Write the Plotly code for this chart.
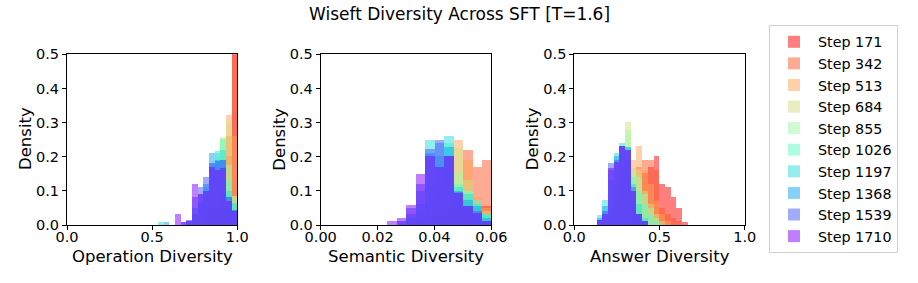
import plotly.graph_objects as go

# ---------------- data ----------------
steps = ["Step 171", "Step 342", "Step 513", "Step 684", "Step 855",
         "Step 1026", "Step 1197", "Step 1368", "Step 1539", "Step 1710"]

# Panel 1: Operation Diversity, bin width 1/30, bins 16..29
op_bin_width = 1 / 30
op_first_bin = 16
op_values = [
    [0, 0, 0, 0, 0, 0, 0, 0, 0.02, 0.03, 0.05, 0.08, 0.20, 0.62],
    [0, 0, 0, 0, 0, 0, 0, 0, 0.01, 0.03, 0.05, 0.10, 0.26, 0.55],
    [0, 0, 0, 0, 0, 0, 0, 0.02, 0.04, 0.06, 0.12, 0.18, 0.32, 0.26],
    [0, 0, 0, 0, 0, 0, 0.01, 0.03, 0.06, 0.10, 0.17, 0.258, 0.30, 0.083],
    [0, 0, 0, 0, 0, 0, 0.02, 0.05, 0.09, 0.14, 0.20, 0.25, 0.175, 0.083],
    [0, 0, 0, 0, 0, 0, 0.03, 0.06, 0.10, 0.16, 0.21, 0.25, 0.13, 0.063],
    [0.009, 0, 0, 0, 0, 0.01, 0.03, 0.07, 0.11, 0.18, 0.217, 0.22, 0.10, 0.063],
    [0, 0.009, 0, 0, 0, 0.01, 0.05, 0.09, 0.12, 0.21, 0.19, 0.19, 0.08, 0.044],
    [0, 0, 0, 0, 0.008, 0.012, 0.08, 0.109, 0.14, 0.18, 0.188, 0.19, 0.08, 0.044],
    [0, 0, 0, 0.03, 0.008, 0.015, 0.12, 0.09, 0.10, 0.17, 0.159, 0.165, 0.07, 0.04],
]

# Panel 2: Semantic Diversity, bin width 1/300, bins 7..17
sem_bin_width = 1 / 300
sem_first_bin = 7
sem_values = [
    [0, 0, 0, 0, 0, 0, 0, 0, 0, 0.02, 0.055],
    [0, 0, 0, 0, 0, 0.01, 0.03, 0.10, 0.219, 0.169, 0.19],
    [0, 0, 0, 0, 0.01, 0.03, 0.08, 0.249, 0.19, 0.08, 0.05],
    [0, 0, 0, 0.01, 0.03, 0.06, 0.13, 0.225, 0.13, 0.06, 0.04],
    [0, 0, 0.01, 0.02, 0.07, 0.11, 0.20, 0.152, 0.10, 0.06, 0.03],
    [0, 0, 0.01, 0.04, 0.12, 0.17, 0.24, 0.12, 0.10, 0.072, 0.03],
    [0, 0, 0.02, 0.06, 0.249, 0.20, 0.26, 0.11, 0.09, 0.06, 0.03],
    [0, 0.01, 0.03, 0.10, 0.21, 0.24, 0.227, 0.10, 0.073, 0.054, 0.02],
    [0, 0.012, 0.05, 0.12, 0.221, 0.249, 0.20, 0.095, 0.054, 0.04, 0.01],
    [0.01, 0.0195, 0.058, 0.149, 0.20, 0.168, 0.20, 0.093, 0.054, 0.035, 0.01],
]

# Panel 3: Answer Diversity, bin width 1/30, bins 4..19
ans_bin_width = 1 / 30
ans_first_bin = 4
ans_values = [
    [0, 0, 0, 0, 0, 0, 0.01, 0.05, 0.15, 0.17, 0.20, 0.12, 0.11, 0.081, 0.049, 0.008],
    [0, 0, 0, 0, 0, 0.01, 0.06, 0.17, 0.19, 0.19, 0.16, 0.05, 0.03, 0.02, 0.01, 0],
    [0, 0, 0, 0, 0.02, 0.05, 0.19, 0.23, 0.16, 0.12, 0.07, 0.03, 0.01, 0, 0, 0],
    [0, 0, 0, 0.03, 0.08, 0.30, 0.166, 0.16, 0.10, 0.06, 0.03, 0.01, 0, 0, 0, 0],
    [0, 0, 0.02, 0.06, 0.14, 0.278, 0.15, 0.14, 0.09, 0.05, 0.02, 0, 0, 0, 0, 0],
    [0, 0.01, 0.05, 0.12, 0.20, 0.229, 0.14, 0.10, 0.06, 0.03, 0.01, 0, 0, 0, 0, 0],
    [0.029, 0.071, 0.13, 0.21, 0.24, 0.19, 0.12, 0.06, 0.02, 0, 0, 0, 0, 0, 0, 0],
    [0.02, 0.054, 0.16, 0.20, 0.23, 0.229, 0.10, 0.03, 0.01, 0, 0, 0, 0, 0, 0, 0],
    [0.015, 0.04, 0.18, 0.19, 0.23, 0.22, 0.11, 0.03, 0.01, 0, 0, 0, 0, 0, 0, 0],
    [0.015, 0.03, 0.166, 0.185, 0.23, 0.22, 0.10, 0.03, 0.01, 0, 0, 0, 0, 0, 0, 0],
]

x_tick_labels_op = ["0.0", "0.5", "1.0"]
x_tick_labels_sem = ["0.00", "0.02", "0.04", "0.06"]
x_tick_labels_ans = ["0.0", "0.5", "1.0"]
y_tick_labels = ["0.0", "0.1", "0.2", "0.3", "0.4", "0.5"]

title_text = "Wiseft Diversity Across SFT [T=1.6]"
x_titles = ["Operation Diversity", "Semantic Diversity", "Answer Diversity"]

# ---------------- style ----------------
colors = ["rgb(255,0,0)", "rgb(255,87,44)", "rgb(255,164,87)", "rgb(212,221,128)",
          "rgb(156,251,164)", "rgb(99,251,195)", "rgb(42,221,221)", "rgb(14,164,240)",
          "rgb(71,87,251)", "rgb(128,0,255)"]

FONT = "DejaVu Sans"
W, H = 918, 283


def px_x(sx):
    return sx / W


def px_y(sy):
    return 1 - sy / H


panels = [
    dict(vals=op_values, bw=op_bin_width, first=op_first_bin, xr=[0, 1],
         tv=[0, 0.5, 1.0], tt=x_tick_labels_op, px=(67, 237.3)),
    dict(vals=sem_values, bw=sem_bin_width, first=sem_first_bin, xr=[0, 0.06],
         tv=[0, 0.02, 0.04, 0.06], tt=x_tick_labels_sem, px=(320.7, 491.3)),
    dict(vals=ans_values, bw=ans_bin_width, first=ans_first_bin, xr=[0, 1],
         tv=[0, 0.5, 1.0], tt=x_tick_labels_ans, px=(574.3, 744.7)),
]
y_top_px, y_bot_px = 54.3, 225.0

fig = go.Figure()
layout_axes = {}
annotations = []
for pi, p in enumerate(panels):
    xa = "x" if pi == 0 else f"x{pi+1}"
    ya = "y" if pi == 0 else f"y{pi+1}"
    for si, name in enumerate(steps):
        vals = p["vals"][si]
        xs = [(p["first"] + i + 0.5) * p["bw"] for i in range(len(vals))]
        fig.add_trace(go.Bar(
            x=xs, y=vals, width=p["bw"], name=name,
            marker=dict(color=colors[si], line=dict(width=0)),
            opacity=0.5, xaxis=xa, yaxis=ya,
            legendgroup=name, showlegend=(pi == 0),
        ))
    xkey = "xaxis" if pi == 0 else f"xaxis{pi+1}"
    ykey = "yaxis" if pi == 0 else f"yaxis{pi+1}"
    axis_common = dict(showline=True, linecolor="black", linewidth=1, mirror=True,
                       ticks="outside", ticklen=4, tickwidth=1, tickcolor="black",
                       showgrid=False, zeroline=False, automargin=False,
                       tickfont=dict(family=FONT, size=14.5, color="black"))
    layout_axes[xkey] = dict(domain=[px_x(p["px"][0]), px_x(p["px"][1])], range=p["xr"],
                             tickvals=p["tv"], ticktext=p["tt"], ticklabelstandoff=-5,
                             anchor=ya, **axis_common)
    layout_axes[ykey] = dict(domain=[px_y(y_bot_px), px_y(y_top_px)], range=[0, 0.5],
                             tickvals=[0, 0.1, 0.2, 0.3, 0.4, 0.5], ticktext=y_tick_labels,
                             anchor=xa, **axis_common)
    cx = (p["px"][0] + p["px"][1]) / 2
    annotations.append(dict(text=x_titles[pi], x=px_x(cx), y=px_y(256), xref="paper",
                            yref="paper", showarrow=False, xanchor="center", yanchor="middle",
                            font=dict(family=FONT, size=16.5, color="black")))
    annotations.append(dict(text="Density", x=px_x(p["px"][0] - 41), y=px_y(139),
                            xref="paper", yref="paper", showarrow=False, textangle=-90,
                            xanchor="center", yanchor="middle",
                            font=dict(family=FONT, size=16.5, color="black")))

annotations.append(dict(text=title_text, x=px_x(459), y=px_y(14), xref="paper", yref="paper",
                        showarrow=False, xanchor="center", yanchor="middle",
                        font=dict(family=FONT, size=17, color="black")))

fig.update_layout(
    width=W, height=H, margin=dict(l=0, r=0, t=0, b=0, autoexpand=False),
    paper_bgcolor="white", plot_bgcolor="white",
    barmode="overlay", bargap=0,
    font=dict(family=FONT, color="black"),
    annotations=annotations,
    legend=dict(x=px_x(769), y=px_y(25), xanchor="left", yanchor="top",
                bordercolor="#d0d0d0", borderwidth=1, bgcolor="white",
                font=dict(family=FONT, size=14.3, color="black"),
                tracegroupgap=0, itemwidth=38),
    **layout_axes,
)

fig.write_html("out.html", config={"displayModeBar": False},
               post_script="document.body.style.margin='0';")
